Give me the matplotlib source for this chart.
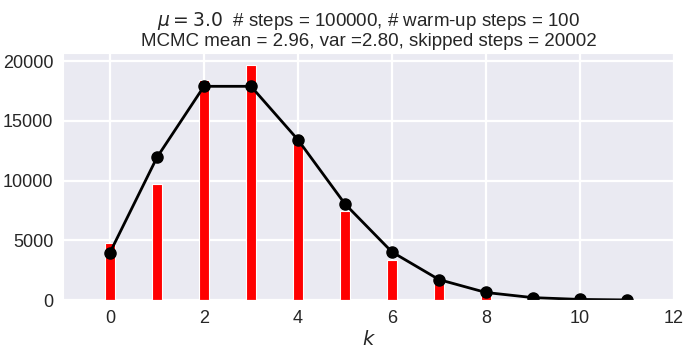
import matplotlib
matplotlib.use("Agg")
import matplotlib.pyplot as plt
import seaborn as sns

# histogram of MCMC samples
k_vals = [0, 1, 2, 3, 4, 5, 6, 7, 8, 9, 10, 11]
counts = [4800, 9750, 18450, 19700, 13800, 7500, 3400, 1600, 580, 150, 40, 10]

# expected counts (Poisson)
expected = [3980, 11950, 17900, 17900, 13420, 8050, 4030, 1720, 640, 210, 60, 17]

title_txt = ("$\\mu = 3.0$  # steps = 100000, # warm-up steps = 100\n"
             "MCMC mean = 2.96, var =2.80, skipped steps = 20002")


def main():
    sns.set_style("darkgrid")
    plt.rcParams['font.family'] = ['Liberation Sans', 'DejaVu Sans']
    plt.rcParams['mathtext.fontset'] = 'dejavusans'

    fig = plt.figure(figsize=(6.92, 3.49), dpi=100)
    ax = fig.add_axes([0.091, 0.14, 0.883, 0.708])
    ax.grid(True, color='white', linewidth=1.6)

    ax.bar(k_vals, counts, width=0.2, color='red', edgecolor='white', linewidth=0.8)
    ax.plot(k_vals, expected, marker='o', linestyle='-', color='black',
            linewidth=2, markersize=8)

    ax.set_xlim(-1, 12)
    ax.set_ylim(0, 20685)
    ax.set_xticks([0, 2, 4, 6, 8, 10, 12])
    ax.set_yticks([0, 5000, 10000, 15000, 20000])
    ax.tick_params(labelsize=13, colors='#262626')
    ax.set_xlabel('$k$', fontsize=14, labelpad=2)
    ax.set_title(title_txt, fontsize=13.5, color='#262626', linespacing=1.05, pad=5)

    fig.savefig("out.png", dpi=100)


if __name__ == "__main__":
    main()
